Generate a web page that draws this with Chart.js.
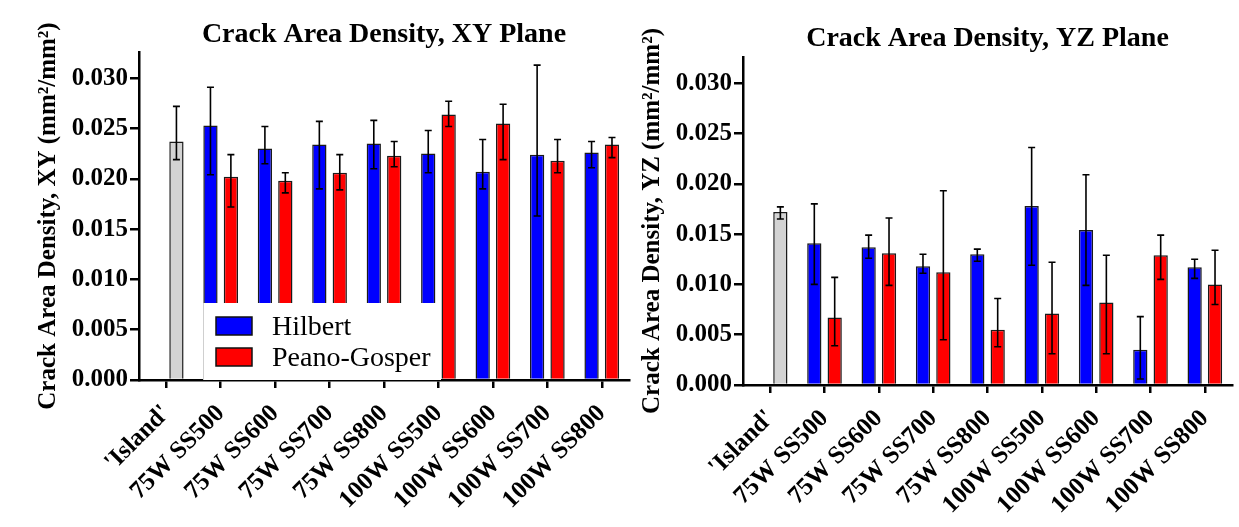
<!DOCTYPE html>
<html>
<head>
<meta charset="utf-8">
<script src="https://cdn.jsdelivr.net/npm/chart.js@4"></script>
<style>
  html, body { margin: 0; padding: 0; background: #fff; width: 1239px; height: 527px; overflow: hidden; }
  canvas { position: absolute; top: 0; }
  #xy { left: 0; }
  #yz { left: 620px; }
</style>
</head>
<body>
<canvas id="xy" width="632" height="527"></canvas>
<canvas id="yz" width="619" height="527"></canvas>
<script>
// ---- data (mm^2/mm^2) ----
const categories = ["'Island'", '75W SS500', '75W SS600', '75W SS700', '75W SS800',
                    '100W SS500', '100W SS600', '100W SS700', '100W SS800'];
const seriesNames = ['Hilbert', 'Peano-Gosper'];
const yTickValues = [0, 0.005, 0.010, 0.015, 0.020, 0.025, 0.030];

// XY plane
const islandXY = 0.0237;
const islandXYErr = [0.0219, 0.0272];
const hilbertXY = [0.0253, 0.0230, 0.0234, 0.0235, 0.0225, 0.0207, 0.0224, 0.0226];
const hilbertXYErr = [[0.0204, 0.0291], [0.0215, 0.0252], [0.0190, 0.0257], [0.0210, 0.0258],
                      [0.0206, 0.0248], [0.0190, 0.0239], [0.0163, 0.0313], [0.0211, 0.0237]];
const peanoXY = [0.0202, 0.0198, 0.0206, 0.0223, 0.0264, 0.0255, 0.0218, 0.0234];
const peanoXYErr = [[0.0172, 0.0224], [0.0186, 0.0206], [0.0189, 0.0224], [0.0212, 0.0237],
                    [0.0252, 0.0277], [0.0219, 0.0274], [0.0206, 0.0239], [0.0221, 0.0241]];

// YZ plane
const islandYZ = 0.0172;
const islandYZErr = [0.0165, 0.0177];
const hilbertYZ = [0.0141, 0.0137, 0.0118, 0.0130, 0.0178, 0.0154, 0.0035, 0.0117];
const hilbertYZErr = [[0.0100, 0.0180], [0.0126, 0.0149], [0.0111, 0.0130], [0.0123, 0.0135],
                      [0.0119, 0.0236], [0.0099, 0.0209], [0.0006, 0.0068], [0.0106, 0.0125]];
const peanoYZ = [0.0067, 0.0131, 0.0112, 0.0055, 0.0071, 0.0082, 0.0129, 0.0100];
const peanoYZErr = [[0.0039, 0.0107], [0.0099, 0.0166], [0.0045, 0.0193], [0.0038, 0.0086],
                    [0.0031, 0.0122], [0.0031, 0.0129], [0.0105, 0.0149], [0.0080, 0.0134]];

// ---- styling ----
const SERIF = '"Liberation Serif", "Times New Roman", serif';
const BLUE = '#0000ff';
const RED = '#ff0000';
const GRAY = '#d3d3d3';

// Error bars: vertical whisker with short caps, drawn over the bars
const errorBars = {
  id: 'errorBars',
  afterDatasetsDraw(chart) {
    const ctx = chart.ctx;
    const y = chart.scales.y;
    ctx.save();
    ctx.strokeStyle = '#000';
    ctx.lineWidth = 1.6;
    chart.data.datasets.forEach((ds, di) => {
      const meta = chart.getDatasetMeta(di);
      meta.data.forEach((bar, i) => {
        const e = ds.errors[i];
        if (!e) return;
        const x = bar.x;
        const lo = y.getPixelForValue(e[0]);
        const hi = y.getPixelForValue(e[1]);
        const cap = 3.5;
        ctx.beginPath();
        ctx.moveTo(x, lo); ctx.lineTo(x, hi);
        ctx.moveTo(x - cap, lo); ctx.lineTo(x + cap, lo);
        ctx.moveTo(x - cap, hi); ctx.lineTo(x + cap, hi);
        ctx.stroke();
      });
    });
    ctx.restore();
  }
};

// Opaque legend box sitting inside the plot area
const boxLegend = {
  id: 'boxLegend',
  afterDatasetsDraw(chart, args, opts) {
    if (!opts.display) return;
    const a = chart.chartArea;
    const ctx = chart.ctx;
    const left = a.left + opts.offsetX;
    const top = a.bottom - opts.height;
    ctx.save();
    ctx.fillStyle = '#fff';
    ctx.fillRect(left, top, opts.width, opts.height);
    ctx.strokeStyle = '#cfcfcf';
    ctx.lineWidth = 1;
    ctx.beginPath();
    ctx.moveTo(left + 0.5, top);
    ctx.lineTo(left + 0.5, a.bottom);
    ctx.stroke();
    ctx.font = '28px ' + SERIF;
    ctx.textBaseline = 'alphabetic';
    chart.data.datasets.forEach((ds, i) => {
      const sy = top + opts.firstRow + i * opts.rowGap;
      ctx.fillStyle = ds.legendColor;
      ctx.fillRect(left + 13, sy, 36, 18);
      ctx.strokeStyle = '#111';
      ctx.lineWidth = 1.5;
      ctx.strokeRect(left + 13, sy, 36, 18);
      ctx.fillStyle = '#000';
      ctx.fillText(ds.label, left + 69, sy + 18);
    });
    ctx.restore();
  }
};

function makeChart(id, cfg) {
  const tickFont = { family: SERIF, size: 25, weight: 'bold' };
  return new Chart(document.getElementById(id), {
    type: 'bar',
    data: {
      labels: categories,
      datasets: [
        {
          label: seriesNames[0],
          data: [null, ...cfg.hilbert],
          errors: [null, ...cfg.hilbertErr],
          backgroundColor: BLUE,
          legendColor: BLUE
        },
        {
          label: seriesNames[1],
          data: [cfg.island, ...cfg.peano],
          errors: [cfg.islandErr, ...cfg.peanoErr],
          backgroundColor: [GRAY, ...cfg.peano.map(() => RED)],
          legendColor: RED
        }
      ]
    },
    options: {
      responsive: false,
      animation: false,
      events: [],
      layout: { padding: { top: cfg.padTop, right: cfg.padRight, left: 0, bottom: 0 } },
      datasets: {
        bar: {
          categoryPercentage: 0.75,
          barPercentage: 0.7,
          borderColor: '#1a1a1a',
          borderWidth: 1.5
        }
      },
      scales: {
        x: {
          offset: true,
          z: 1,
          grid: { display: true, offset: false, drawOnChartArea: false, drawTicks: true,
                  tickLength: 8, color: '#000', lineWidth: 2.5 },
          border: { display: true, color: '#000', width: 2.5 },
          ticks: { color: '#000', font: tickFont,
                   minRotation: 45, maxRotation: 45, autoSkip: false, padding: 11 },
          afterFit(s) { s.height = cfg.xHeight; s.paddingLeft = 0; s.paddingRight = 0; }
        },
        y: {
          min: 0,
          max: 0.0326,
          z: 1,
          grid: { display: true, drawOnChartArea: false, drawTicks: true,
                  tickLength: 9, color: '#000', lineWidth: 2.5 },
          border: { display: true, color: '#000', width: 2.5 },
          ticks: { color: '#000', font: tickFont, padding: 2,
                   callback: v => v.toFixed(3) },
          afterBuildTicks(s) { s.ticks = yTickValues.map(v => ({ value: v })); },
          title: { display: true, text: cfg.yTitle, color: '#000',
                   font: { family: SERIF, size: 25, weight: 'bold' },
                   padding: { top: cfg.yTitlePad, bottom: 0 } },
          afterFit(s) { s.width = cfg.yWidth; s.paddingTop = 0; s.paddingBottom = 0; }
        }
      },
      plugins: {
        legend: { display: false },
        tooltip: { enabled: false },
        title: {
          display: true,
          text: cfg.title,
          fullSize: false,
          color: '#000',
          font: { family: SERIF, size: 28, weight: 'bold', lineHeight: 1.1 },
          padding: { top: cfg.titlePadTop, bottom: cfg.titlePadBottom }
        },
        boxLegend: cfg.legend
      }
    },
    plugins: [errorBars, boxLegend]
  });
}

makeChart('xy', {
  title: 'Crack Area Density, XY Plane',
  yTitle: 'Crack Area Density, XY (mm\u00b2/mm\u00b2)',
  island: islandXY, islandErr: islandXYErr,
  hilbert: hilbertXY, hilbertErr: hilbertXYErr,
  peano: peanoXY, peanoErr: peanoXYErr,
  padTop: 0, padRight: 3,
  titlePadTop: 19.1, titlePadBottom: 2.1,
  yWidth: 139, xHeight: 147, yTitlePad: 34,
  legend: { display: true, offsetX: 64, width: 238, height: 77, firstRow: 14, rowGap: 31 }
});

makeChart('yz', {
  title: 'Crack Area Density, YZ Plane',
  yTitle: 'Crack Area Density, YZ (mm\u00b2/mm\u00b2)',
  island: islandYZ, islandErr: islandYZErr,
  hilbert: hilbertYZ, hilbertErr: hilbertYZErr,
  peano: peanoYZ, peanoErr: peanoYZErr,
  padTop: 0, padRight: 7,
  titlePadTop: 23.1, titlePadBottom: 3.1,
  yWidth: 123, xHeight: 142, yTitlePad: 18,
  legend: { display: false }
});
</script>
</body>
</html>
